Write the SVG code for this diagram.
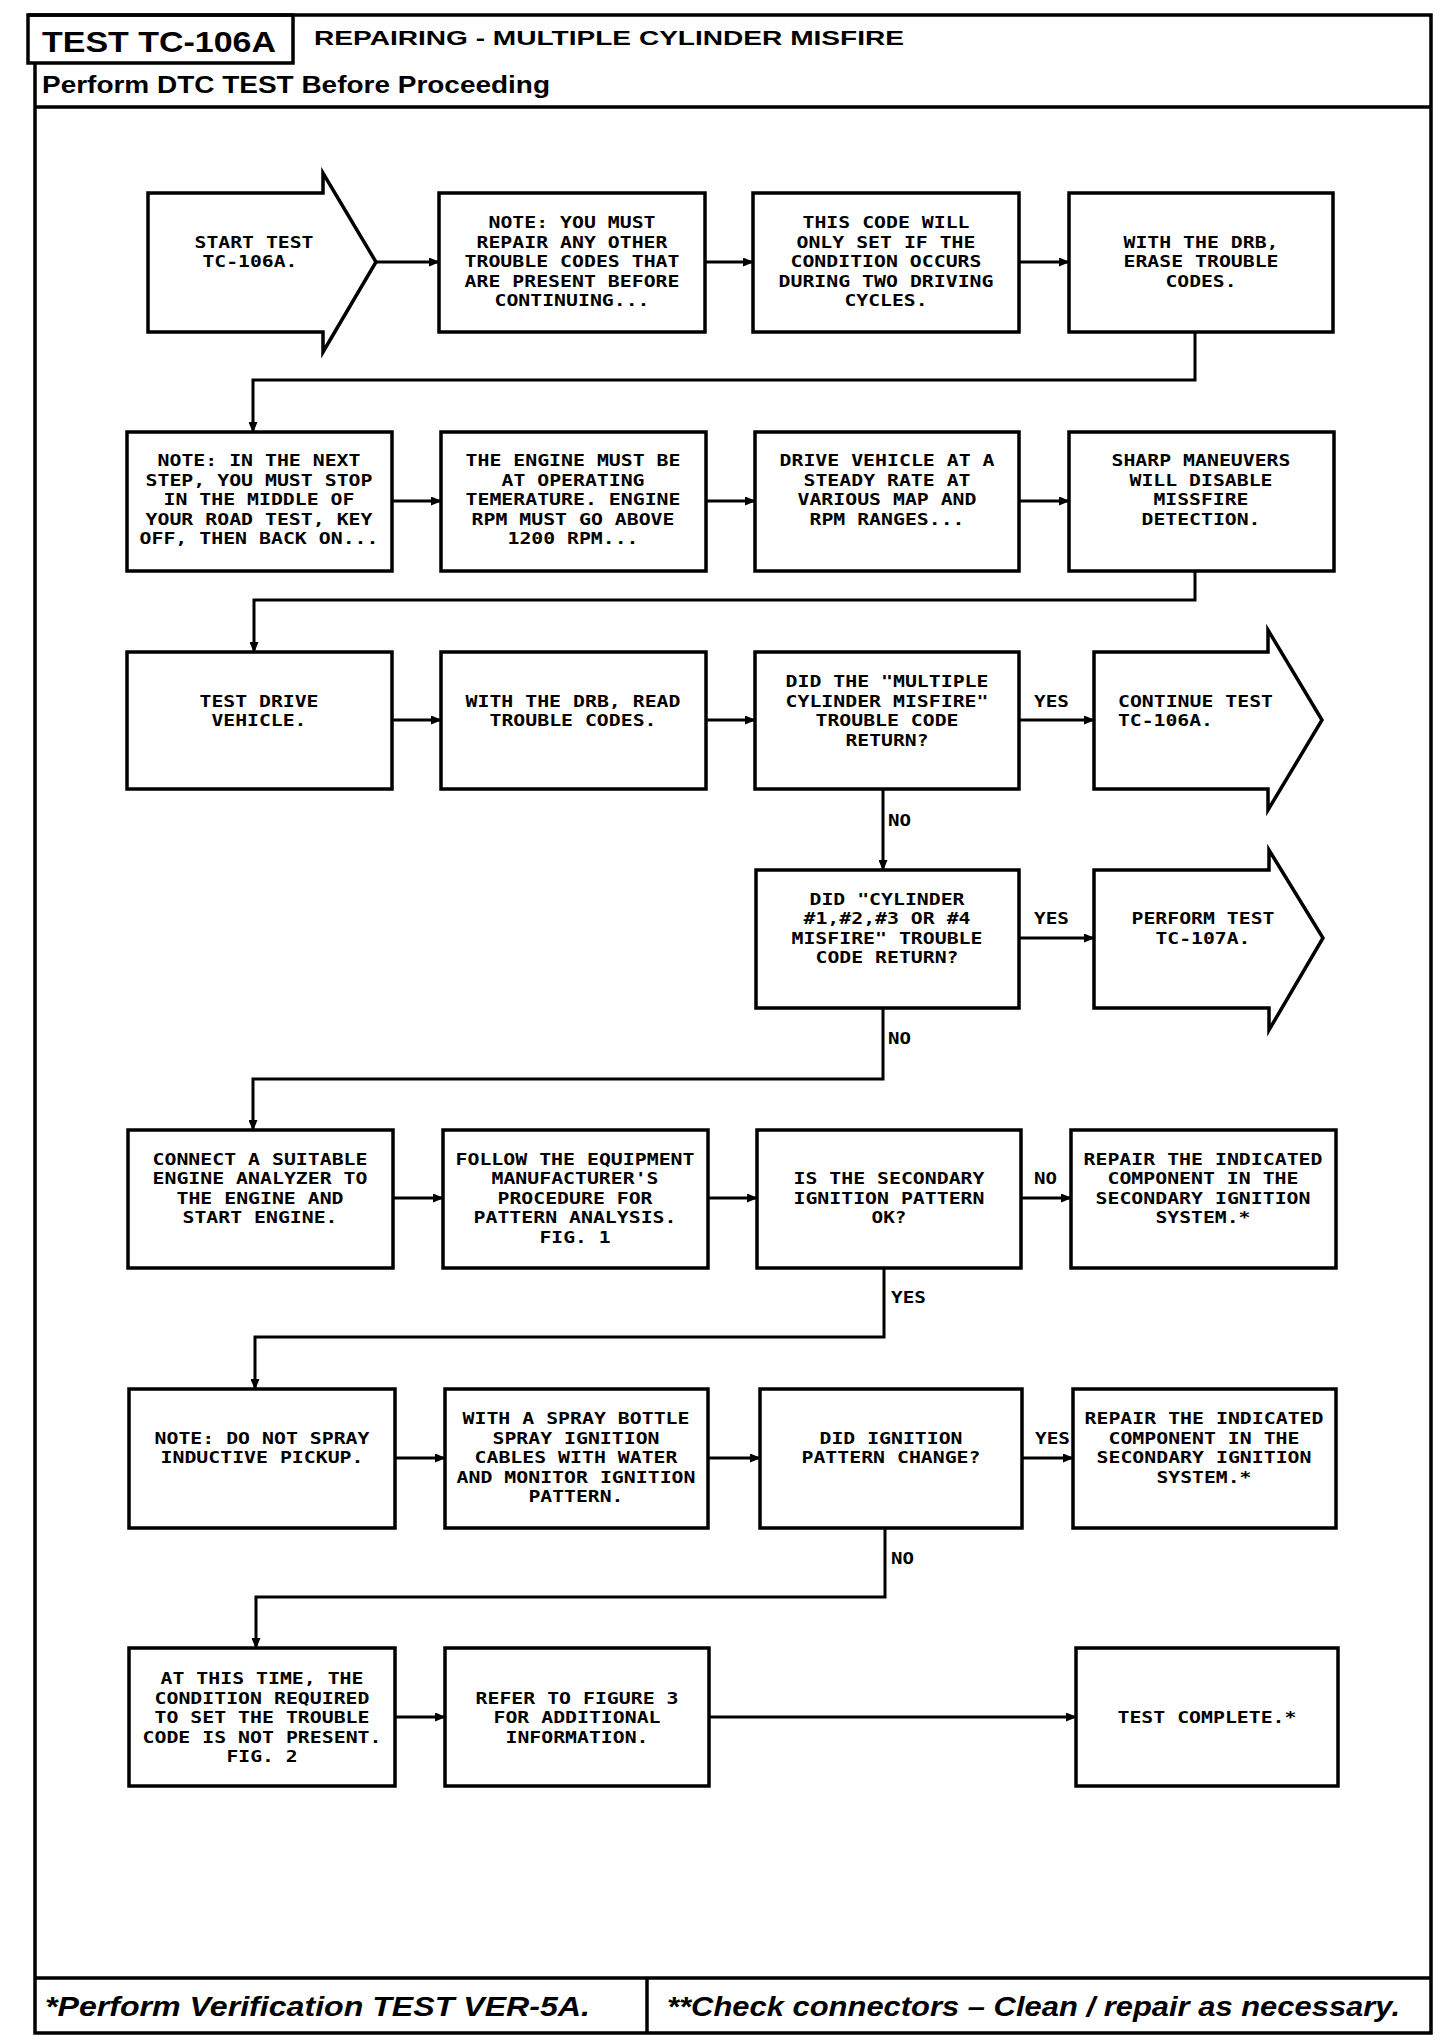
<svg xmlns="http://www.w3.org/2000/svg" width="1456" height="2042" viewBox="0 0 1456 2042">
<defs>
<marker id="ah" markerUnits="userSpaceOnUse" markerWidth="11" markerHeight="9" refX="10" refY="4.5" orient="auto"><path d="M0,0 L11,4.5 L0,9 Z" fill="#000"/></marker>
<style>
.box{fill:#fff;stroke:#000;stroke-width:3.5}
.frame{fill:none;stroke:#000;stroke-width:3.5}
.ca{fill:none;stroke:#000;stroke-width:3;marker-end:url(#ah)}
.t{font-family:"DejaVu Sans Mono","Liberation Mono",monospace;font-size:16.5px;font-weight:bold;text-anchor:middle;fill:#000}
.s{font-family:"DejaVu Sans Mono","Liberation Mono",monospace;font-size:16.5px;font-weight:bold;text-anchor:start;fill:#000}
.h{font-family:"Liberation Sans",Arial,sans-serif;font-weight:bold;fill:#000}
.f{font-family:"Liberation Sans",Arial,sans-serif;font-weight:bold;font-style:italic;font-size:28px;fill:#000}
</style>
</defs>
<rect width="1456" height="2042" fill="#fff"/>
<g id="frame">
<path class="frame" d="M28,15 H1431 V2033 H35 V63"/>
<rect class="frame" x="28" y="15" width="265" height="48"/>
<line class="frame" x1="35" y1="107" x2="1431" y2="107"/>
<line class="frame" x1="35" y1="1978" x2="1431" y2="1978"/>
<line class="frame" x1="647" y1="1978" x2="647" y2="2033"/>
<text class="h" x="42" y="52" font-size="30" textLength="234" lengthAdjust="spacingAndGlyphs">TEST TC-106A</text>
<text class="h" x="314" y="45" font-size="21" textLength="590" lengthAdjust="spacingAndGlyphs">REPAIRING - MULTIPLE CYLINDER MISFIRE</text>
<text class="h" x="42" y="93" font-size="23" textLength="508" lengthAdjust="spacingAndGlyphs">Perform DTC TEST Before Proceeding</text>
<text class="f" x="45" y="2016" textLength="545" lengthAdjust="spacingAndGlyphs">*Perform Verification TEST VER-5A.</text>
<text class="f" x="667" y="2016" textLength="733" lengthAdjust="spacingAndGlyphs">**Check connectors – Clean / repair as necessary.</text>
</g>
<g id="connectors">
<path class="ca" d="M376,262 H439"/>
<path class="ca" d="M705,262 H753"/>
<path class="ca" d="M1019,262 H1069"/>
<path class="ca" d="M1195,332 V380 H253 V432"/>
<path class="ca" d="M392,501 H441"/>
<path class="ca" d="M706,501 H755"/>
<path class="ca" d="M1019,501 H1069"/>
<path class="ca" d="M1195,571 V600 H254 V652"/>
<path class="ca" d="M392,720 H441"/>
<path class="ca" d="M706,720 H755"/>
<path class="ca" d="M1019,720 H1094"/>
<path class="ca" d="M883,789 V870"/>
<path class="ca" d="M1019,938 H1094"/>
<path class="ca" d="M883,1008 V1079 H253 V1130"/>
<path class="ca" d="M393,1198 H443"/>
<path class="ca" d="M708,1198 H757"/>
<path class="ca" d="M1021,1198 H1071"/>
<path class="ca" d="M884,1268 V1337 H255 V1389"/>
<path class="ca" d="M395,1458 H445"/>
<path class="ca" d="M708,1458 H760"/>
<path class="ca" d="M1022,1458 H1073"/>
<path class="ca" d="M885,1528 V1597 H256 V1648"/>
<path class="ca" d="M395,1717 H445"/>
<path class="ca" d="M709,1717 H1076"/>
<text class="s" x="1034" y="707" textLength="35" lengthAdjust="spacingAndGlyphs">YES</text>
<text class="s" x="888" y="826" textLength="23" lengthAdjust="spacingAndGlyphs">NO</text>
<text class="s" x="1034" y="924" textLength="35" lengthAdjust="spacingAndGlyphs">YES</text>
<text class="s" x="888" y="1044" textLength="23" lengthAdjust="spacingAndGlyphs">NO</text>
<text class="s" x="1034" y="1184" textLength="23" lengthAdjust="spacingAndGlyphs">NO</text>
<text class="s" x="891" y="1303" textLength="35" lengthAdjust="spacingAndGlyphs">YES</text>
<text class="s" x="1035" y="1444" textLength="35" lengthAdjust="spacingAndGlyphs">YES</text>
<text class="s" x="891" y="1564" textLength="23" lengthAdjust="spacingAndGlyphs">NO</text>
</g>
<g id="n1">
<path class="box" d="M148,193 H323 V173 L376,262 L323,352 V332 H148 Z"/>
<text class="t"><tspan x="254" y="247.5" textLength="119" lengthAdjust="spacingAndGlyphs">START TEST</tspan><tspan x="250" y="267" textLength="95" lengthAdjust="spacingAndGlyphs">TC-106A.</tspan></text>
</g>
<g id="n2">
<rect class="box" x="439" y="193" width="266" height="139"/>
<text class="t"><tspan x="572" y="228" textLength="167" lengthAdjust="spacingAndGlyphs">NOTE: YOU MUST</tspan><tspan x="572" y="247.5" textLength="191" lengthAdjust="spacingAndGlyphs">REPAIR ANY OTHER</tspan><tspan x="572" y="267" textLength="215" lengthAdjust="spacingAndGlyphs">TROUBLE CODES THAT</tspan><tspan x="572" y="286.5" textLength="215" lengthAdjust="spacingAndGlyphs">ARE PRESENT BEFORE</tspan><tspan x="572" y="306" textLength="155" lengthAdjust="spacingAndGlyphs">CONTINUING...</tspan></text>
</g>
<g id="n3">
<rect class="box" x="753" y="193" width="266" height="139"/>
<text class="t"><tspan x="886" y="228" textLength="167" lengthAdjust="spacingAndGlyphs">THIS CODE WILL</tspan><tspan x="886" y="247.5" textLength="179" lengthAdjust="spacingAndGlyphs">ONLY SET IF THE</tspan><tspan x="886" y="267" textLength="191" lengthAdjust="spacingAndGlyphs">CONDITION OCCURS</tspan><tspan x="886" y="286.5" textLength="215" lengthAdjust="spacingAndGlyphs">DURING TWO DRIVING</tspan><tspan x="886" y="306" textLength="83" lengthAdjust="spacingAndGlyphs">CYCLES.</tspan></text>
</g>
<g id="n4">
<rect class="box" x="1069" y="193" width="264" height="139"/>
<text class="t"><tspan x="1201" y="247.5" textLength="155" lengthAdjust="spacingAndGlyphs">WITH THE DRB,</tspan><tspan x="1201" y="267" textLength="155" lengthAdjust="spacingAndGlyphs">ERASE TROUBLE</tspan><tspan x="1201" y="286.5" textLength="71" lengthAdjust="spacingAndGlyphs">CODES.</tspan></text>
</g>
<g id="n5">
<rect class="box" x="127" y="432" width="265" height="139"/>
<text class="t"><tspan x="259" y="466" textLength="203" lengthAdjust="spacingAndGlyphs">NOTE: IN THE NEXT</tspan><tspan x="259" y="485.5" textLength="227" lengthAdjust="spacingAndGlyphs">STEP, YOU MUST STOP</tspan><tspan x="259" y="505" textLength="191" lengthAdjust="spacingAndGlyphs">IN THE MIDDLE OF</tspan><tspan x="259" y="524.5" textLength="227" lengthAdjust="spacingAndGlyphs">YOUR ROAD TEST, KEY</tspan><tspan x="259" y="544" textLength="239" lengthAdjust="spacingAndGlyphs">OFF, THEN BACK ON...</tspan></text>
</g>
<g id="n6">
<rect class="box" x="441" y="432" width="265" height="139"/>
<text class="t"><tspan x="573" y="466" textLength="215" lengthAdjust="spacingAndGlyphs">THE ENGINE MUST BE</tspan><tspan x="573" y="485.5" textLength="143" lengthAdjust="spacingAndGlyphs">AT OPERATING</tspan><tspan x="573" y="505" textLength="215" lengthAdjust="spacingAndGlyphs">TEMERATURE. ENGINE</tspan><tspan x="573" y="524.5" textLength="203" lengthAdjust="spacingAndGlyphs">RPM MUST GO ABOVE</tspan><tspan x="573" y="544" textLength="131" lengthAdjust="spacingAndGlyphs">1200 RPM...</tspan></text>
</g>
<g id="n7">
<rect class="box" x="755" y="432" width="264" height="139"/>
<text class="t"><tspan x="887" y="466" textLength="215" lengthAdjust="spacingAndGlyphs">DRIVE VEHICLE AT A</tspan><tspan x="887" y="485.5" textLength="167" lengthAdjust="spacingAndGlyphs">STEADY RATE AT</tspan><tspan x="887" y="505" textLength="179" lengthAdjust="spacingAndGlyphs">VARIOUS MAP AND</tspan><tspan x="887" y="524.5" textLength="155" lengthAdjust="spacingAndGlyphs">RPM RANGES...</tspan></text>
</g>
<g id="n8">
<rect class="box" x="1069" y="432" width="265" height="139"/>
<text class="t"><tspan x="1201" y="466" textLength="179" lengthAdjust="spacingAndGlyphs">SHARP MANEUVERS</tspan><tspan x="1201" y="485.5" textLength="143" lengthAdjust="spacingAndGlyphs">WILL DISABLE</tspan><tspan x="1201" y="505" textLength="95" lengthAdjust="spacingAndGlyphs">MISSFIRE</tspan><tspan x="1201" y="524.5" textLength="119" lengthAdjust="spacingAndGlyphs">DETECTION.</tspan></text>
</g>
<g id="n9">
<rect class="box" x="127" y="652" width="265" height="137"/>
<text class="t"><tspan x="259" y="706.5" textLength="119" lengthAdjust="spacingAndGlyphs">TEST DRIVE</tspan><tspan x="259" y="726" textLength="95" lengthAdjust="spacingAndGlyphs">VEHICLE.</tspan></text>
</g>
<g id="n10">
<rect class="box" x="441" y="652" width="265" height="137"/>
<text class="t"><tspan x="573" y="706.5" textLength="215" lengthAdjust="spacingAndGlyphs">WITH THE DRB, READ</tspan><tspan x="573" y="726" textLength="167" lengthAdjust="spacingAndGlyphs">TROUBLE CODES.</tspan></text>
</g>
<g id="n11">
<rect class="box" x="755" y="652" width="264" height="137"/>
<text class="t"><tspan x="887" y="687" textLength="203" lengthAdjust="spacingAndGlyphs">DID THE "MULTIPLE</tspan><tspan x="887" y="706.5" textLength="203" lengthAdjust="spacingAndGlyphs">CYLINDER MISFIRE"</tspan><tspan x="887" y="726" textLength="143" lengthAdjust="spacingAndGlyphs">TROUBLE CODE</tspan><tspan x="887" y="745.5" textLength="83" lengthAdjust="spacingAndGlyphs">RETURN?</tspan></text>
</g>
<g id="n12">
<path class="box" d="M1094,652 H1268 V630 L1322,720 L1268,810 V789 H1094 Z"/>
<text class="s"><tspan x="1118" y="706.5" textLength="155" lengthAdjust="spacingAndGlyphs">CONTINUE TEST</tspan><tspan x="1118" y="726" textLength="95" lengthAdjust="spacingAndGlyphs">TC-106A.</tspan></text>
</g>
<g id="n13">
<rect class="box" x="756" y="870" width="263" height="138"/>
<text class="t"><tspan x="887" y="904.5" textLength="155" lengthAdjust="spacingAndGlyphs">DID "CYLINDER</tspan><tspan x="887" y="924" textLength="167" lengthAdjust="spacingAndGlyphs">#1,#2,#3 OR #4</tspan><tspan x="887" y="943.5" textLength="191" lengthAdjust="spacingAndGlyphs">MISFIRE" TROUBLE</tspan><tspan x="887" y="963" textLength="143" lengthAdjust="spacingAndGlyphs">CODE RETURN?</tspan></text>
</g>
<g id="n14">
<path class="box" d="M1094,870 H1269 V850 L1323,938 L1269,1030 V1008 H1094 Z"/>
<text class="t"><tspan x="1203" y="924" textLength="143" lengthAdjust="spacingAndGlyphs">PERFORM TEST</tspan><tspan x="1203" y="943.5" textLength="95" lengthAdjust="spacingAndGlyphs">TC-107A.</tspan></text>
</g>
<g id="n15">
<rect class="box" x="128" y="1130" width="265" height="138"/>
<text class="t"><tspan x="260" y="1164.5" textLength="215" lengthAdjust="spacingAndGlyphs">CONNECT A SUITABLE</tspan><tspan x="260" y="1184" textLength="215" lengthAdjust="spacingAndGlyphs">ENGINE ANALYZER TO</tspan><tspan x="260" y="1203.5" textLength="167" lengthAdjust="spacingAndGlyphs">THE ENGINE AND</tspan><tspan x="260" y="1223" textLength="155" lengthAdjust="spacingAndGlyphs">START ENGINE.</tspan></text>
</g>
<g id="n16">
<rect class="box" x="443" y="1130" width="265" height="138"/>
<text class="t"><tspan x="575" y="1164.5" textLength="239" lengthAdjust="spacingAndGlyphs">FOLLOW THE EQUIPMENT</tspan><tspan x="575" y="1184" textLength="167" lengthAdjust="spacingAndGlyphs">MANUFACTURER'S</tspan><tspan x="575" y="1203.5" textLength="155" lengthAdjust="spacingAndGlyphs">PROCEDURE FOR</tspan><tspan x="575" y="1223" textLength="203" lengthAdjust="spacingAndGlyphs">PATTERN ANALYSIS.</tspan><tspan x="575" y="1242.5" textLength="71" lengthAdjust="spacingAndGlyphs">FIG. 1</tspan></text>
</g>
<g id="n17">
<rect class="box" x="757" y="1130" width="264" height="138"/>
<text class="t"><tspan x="889" y="1184" textLength="191" lengthAdjust="spacingAndGlyphs">IS THE SECONDARY</tspan><tspan x="889" y="1203.5" textLength="191" lengthAdjust="spacingAndGlyphs">IGNITION PATTERN</tspan><tspan x="889" y="1223" textLength="35" lengthAdjust="spacingAndGlyphs">OK?</tspan></text>
</g>
<g id="n18">
<rect class="box" x="1071" y="1130" width="265" height="138"/>
<text class="t"><tspan x="1203" y="1164.5" textLength="239" lengthAdjust="spacingAndGlyphs">REPAIR THE INDICATED</tspan><tspan x="1203" y="1184" textLength="191" lengthAdjust="spacingAndGlyphs">COMPONENT IN THE</tspan><tspan x="1203" y="1203.5" textLength="215" lengthAdjust="spacingAndGlyphs">SECONDARY IGNITION</tspan><tspan x="1203" y="1223" textLength="95" lengthAdjust="spacingAndGlyphs">SYSTEM.*</tspan></text>
</g>
<g id="n19">
<rect class="box" x="129" y="1389" width="266" height="139"/>
<text class="t"><tspan x="262" y="1443.5" textLength="215" lengthAdjust="spacingAndGlyphs">NOTE: DO NOT SPRAY</tspan><tspan x="262" y="1463" textLength="203" lengthAdjust="spacingAndGlyphs">INDUCTIVE PICKUP.</tspan></text>
</g>
<g id="n20">
<rect class="box" x="445" y="1389" width="263" height="139"/>
<text class="t"><tspan x="576" y="1424" textLength="227" lengthAdjust="spacingAndGlyphs">WITH A SPRAY BOTTLE</tspan><tspan x="576" y="1443.5" textLength="167" lengthAdjust="spacingAndGlyphs">SPRAY IGNITION</tspan><tspan x="576" y="1463" textLength="203" lengthAdjust="spacingAndGlyphs">CABLES WITH WATER</tspan><tspan x="576" y="1482.5" textLength="239" lengthAdjust="spacingAndGlyphs">AND MONITOR IGNITION</tspan><tspan x="576" y="1502" textLength="95" lengthAdjust="spacingAndGlyphs">PATTERN.</tspan></text>
</g>
<g id="n21">
<rect class="box" x="760" y="1389" width="262" height="139"/>
<text class="t"><tspan x="891" y="1443.5" textLength="143" lengthAdjust="spacingAndGlyphs">DID IGNITION</tspan><tspan x="891" y="1463" textLength="179" lengthAdjust="spacingAndGlyphs">PATTERN CHANGE?</tspan></text>
</g>
<g id="n22">
<rect class="box" x="1073" y="1389" width="263" height="139"/>
<text class="t"><tspan x="1204" y="1424" textLength="239" lengthAdjust="spacingAndGlyphs">REPAIR THE INDICATED</tspan><tspan x="1204" y="1443.5" textLength="191" lengthAdjust="spacingAndGlyphs">COMPONENT IN THE</tspan><tspan x="1204" y="1463" textLength="215" lengthAdjust="spacingAndGlyphs">SECONDARY IGNITION</tspan><tspan x="1204" y="1482.5" textLength="95" lengthAdjust="spacingAndGlyphs">SYSTEM.*</tspan></text>
</g>
<g id="n23">
<rect class="box" x="129" y="1648" width="266" height="138"/>
<text class="t"><tspan x="262" y="1684" textLength="203" lengthAdjust="spacingAndGlyphs">AT THIS TIME, THE</tspan><tspan x="262" y="1703.5" textLength="215" lengthAdjust="spacingAndGlyphs">CONDITION REQUIRED</tspan><tspan x="262" y="1723" textLength="215" lengthAdjust="spacingAndGlyphs">TO SET THE TROUBLE</tspan><tspan x="262" y="1742.5" textLength="239" lengthAdjust="spacingAndGlyphs">CODE IS NOT PRESENT.</tspan><tspan x="262" y="1762" textLength="71" lengthAdjust="spacingAndGlyphs">FIG. 2</tspan></text>
</g>
<g id="n24">
<rect class="box" x="445" y="1648" width="264" height="138"/>
<text class="t"><tspan x="577" y="1703.5" textLength="203" lengthAdjust="spacingAndGlyphs">REFER TO FIGURE 3</tspan><tspan x="577" y="1723" textLength="167" lengthAdjust="spacingAndGlyphs">FOR ADDITIONAL</tspan><tspan x="577" y="1742.5" textLength="143" lengthAdjust="spacingAndGlyphs">INFORMATION.</tspan></text>
</g>
<g id="n25">
<rect class="box" x="1076" y="1648" width="262" height="138"/>
<text class="t" x="1207" y="1723" textLength="179" lengthAdjust="spacingAndGlyphs">TEST COMPLETE.*</text>
</g>
</svg>
